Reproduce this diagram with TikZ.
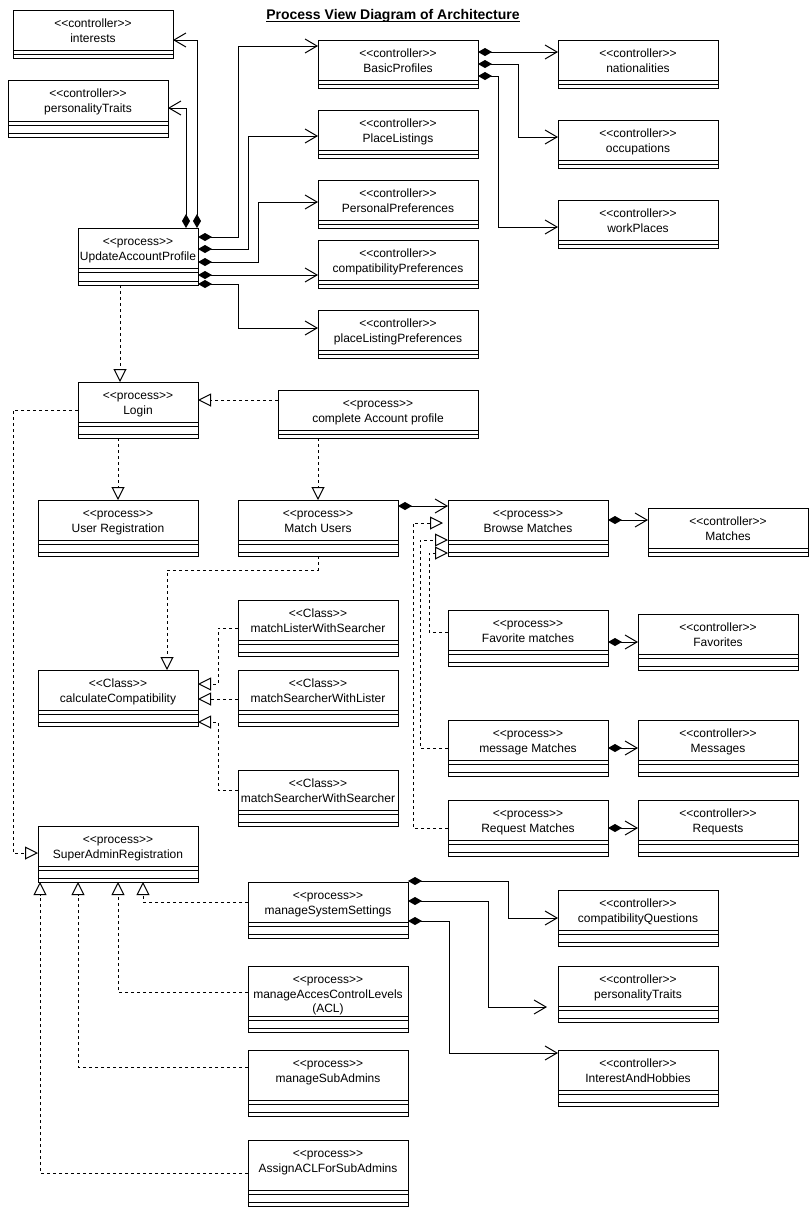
\documentclass[tikz,border=0pt]{standalone}
\usepackage{fontspec}
\setmainfont{Liberation Sans}[Ligatures=TeXOff]
\usetikzlibrary{arrows.meta}
\tikzset{
  ubox/.style={draw, line width=1pt, inner sep=0pt, outer sep=0pt, anchor=north west},
  utext/.style={anchor=north, align=center, inner sep=0pt, font=\fontsize{12}{14.5}\selectfont},
  comp/.style={draw, line width=1pt, {Diamond[length=14pt,width=8pt]}-{Straight Barb[length=12pt,width=14pt]}},
  realz/.style={draw, line width=1pt, dash pattern=on 3pt off 3pt, -{Triangle[open,length=13pt,width=13pt,fill=white]}},
}
\newcommand\umlbox[7]{%
  \pgfmathsetmacro\ubW{#4-#2}\pgfmathsetmacro\ubH{#5-#3}%
  \node[ubox, minimum width=\ubW pt, minimum height=\ubH pt] (#1) at (#2,#3) {};
  \foreach \yy in {#6}{\draw[line width=1pt] (#2,\yy) -- (#4,\yy);}
  \node[utext] (#1-t) at ({(#2+#4)/2},{#3+8}) {\rule{0pt}{9.5pt}#7};
}
\begin{document}
\begin{tikzpicture}[x=1pt,y=-1pt]
\useasboundingbox (0,0) rectangle (809,1208);
\fill[white] (0,0) rectangle (809,1208);

% title
\node[anchor=base, inner sep=0pt, font=\bfseries\fontsize{14}{16}\selectfont] (title) at (393,19.5) {Process View Diagram of Architecture};
\draw[line width=0.9pt] ([yshift=-1.8pt]title.base west) -- ([yshift=-1.8pt]title.base east);

% boxes
\umlbox{interests}{13}{10}{173}{58}{50,54}{<<controller>>\\interests}
\umlbox{ptA}{8}{80}{168}{137}{121,125,133}{<<controller>>\\personalityTraits}
\umlbox{uap}{78}{228}{198}{285}{268,272,281}{<<process>>\\UpdateAccountProfile}
\umlbox{bp}{318}{40}{478}{88}{80,84}{<<controller>>\\BasicProfiles}
\umlbox{pl}{318}{110}{478}{158}{150,154}{<<controller>>\\PlaceListings}
\umlbox{pp}{318}{180}{478}{228}{220,224}{<<controller>>\\PersonalPreferences}
\umlbox{cp}{318}{240}{478}{288}{280,284}{<<controller>>\\compatibilityPreferences}
\umlbox{plp}{318}{310}{478}{358}{350,354}{<<controller>>\\placeListingPreferences}
\umlbox{nat}{558}{40}{718}{88}{80,84}{<<controller>>\\nationalities}
\umlbox{occ}{558}{120}{718}{168}{160,164}{<<controller>>\\occupations}
\umlbox{wp}{558}{200}{718}{248}{240,244}{<<controller>>\\workPlaces}
\umlbox{login}{78}{382}{198}{438}{422,426,434}{<<process>>\\Login}
\umlbox{cap}{278}{390}{478}{438}{430,434}{<<process>>\\complete Account profile}
\umlbox{ur}{38}{500}{198}{556}{540,544,552}{<<process>>\\User Registration}
\umlbox{mu}{238}{500}{398}{556}{540,544,552}{<<process>>\\Match Users}
\umlbox{bm}{448}{500}{608}{556}{540,544,552}{<<process>>\\Browse Matches}
\umlbox{mat}{648}{508}{808}{556}{548,552}{<<controller>>\\Matches}
\umlbox{fm}{448}{610}{608}{666}{650,654,662}{<<process>>\\Favorite matches}
\umlbox{fav}{638}{614}{798}{670}{654,658,666}{<<controller>>\\Favorites}
\umlbox{mm}{448}{720}{608}{776}{760,764,772}{<<process>>\\message Matches}
\umlbox{mes}{638}{720}{798}{776}{760,764,772}{<<controller>>\\Messages}
\umlbox{rm}{448}{800}{608}{856}{840,844,852}{<<process>>\\Request Matches}
\umlbox{req}{638}{800}{798}{856}{840,844,852}{<<controller>>\\Requests}
\umlbox{mlws}{238}{600}{398}{656}{640,644,652}{<<Class>>\\matchListerWithSearcher}
\umlbox{calc}{38}{670}{198}{726}{710,714,722}{<<Class>>\\calculateCompatibility}
\umlbox{mswl}{238}{670}{398}{726}{710,714,722}{<<Class>>\\matchSearcherWithLister}
\umlbox{msws}{238}{770}{398}{826}{810,814,822}{<<Class>>\\matchSearcherWithSearcher}
\umlbox{sar}{38}{826}{198}{882}{866,870,878}{<<process>>\\SuperAdminRegistration}
\umlbox{mss}{248}{882}{408}{938}{922,926,934}{<<process>>\\manageSystemSettings}
\umlbox{macl}{248}{966}{408}{1032}{1016,1020,1028}{<<process>>\\manageAccesControlLevels\\(ACL)}
\umlbox{msa}{248}{1050}{408}{1116}{1100,1104,1112}{<<process>>\\manageSubAdmins}
\umlbox{aacl}{248}{1140}{408}{1206}{1190,1194,1202}{<<process>>\\AssignACLForSubAdmins}
\umlbox{cq}{558}{890}{718}{946}{930,934,942}{<<controller>>\\compatibilityQuestions}
\umlbox{ptB}{558}{966}{718}{1022}{1006,1010,1018}{<<controller>>\\personalityTraits}
\umlbox{ih}{558}{1050}{718}{1106}{1090,1094,1102}{<<controller>>\\InterestAndHobbies}

% compositions from UpdateAccountProfile
\draw[comp] (197,0 |- uap.north) |- (interests.east |- 0,40);
\draw[comp] (186,0 |- uap.north) |- (ptA.east |- 0,108);
\draw[comp] (uap.east |- 0,237) -- (238,237) |- (bp.west |- 0,46);
\draw[comp] (uap.east |- 0,249) -- (248,249) |- (pl.west |- 0,136);
\draw[comp] (uap.east |- 0,262) -- (258,262) |- (pp.west |- 0,202);
\draw[comp] (uap.east |- 0,275) -- (cp.west |- 0,275);
\draw[comp] (uap.east |- 0,284) -- (238,284) |- (plp.west |- 0,328);

% compositions from BasicProfiles
\draw[comp] (bp.east |- 0,52) -- (nat.west |- 0,52);
\draw[comp] (bp.east |- 0,64) -- (518,64) |- (occ.west |- 0,137);
\draw[comp] (bp.east |- 0,76) -- (498,76) |- (wp.west |- 0,227);

% realizations
\draw[realz] (120,0 |- uap.south) -- (120,0 |- login.north);
\draw[realz] (cap.west |- 0,400) -- (login.east |- 0,400);
\draw[realz] (118,0 |- login.south) -- (118,0 |- ur.north);
\draw[realz] (318,0 |- cap.south) -- (318,0 |- mu.north);
\draw[realz] (login.west |- 0,410) -- (13,410) |- (sar.west |- 0,853);
\draw[realz] (318,0 |- mu.south) -- (318,570) -| (167,0 |- calc.north);

% match compositions
\draw[comp] (mu.east |- 0,506) -- (bm.west |- 0,506);
\draw[comp] (bm.east |- 0,520) -- (mat.west |- 0,520);
\draw[comp] (fm.east |- 0,642) -- (fav.west |- 0,642);
\draw[comp] (mm.east |- 0,748) -- (mes.west |- 0,748);
\draw[comp] (rm.east |- 0,828) -- (req.west |- 0,828);

% realizations into Browse Matches
\draw[realz, shorten >=5pt] (rm.west |- 0,828) -- (413,828) |- (bm.west |- 0,523);
\draw[realz] (mm.west |- 0,748) -- (420,748) |- (bm.west |- 0,540);
\draw[realz] (fm.west |- 0,632) -- (429,632) |- (bm.west |- 0,553);

% realizations into calculateCompatibility
\draw[realz] (mlws.west |- 0,628) -- (218,628) |- (calc.east |- 0,684);
\draw[realz] (mswl.west |- 0,699) -- (calc.east |- 0,699);
\draw[realz] (msws.west |- 0,790) -- (218,790) |- (calc.east |- 0,722);

% realizations into SuperAdminRegistration
\draw[realz] (mss.west |- 0,902) -| (143,0 |- sar.south);
\draw[realz] (macl.west |- 0,992) -| (118,0 |- sar.south);
\draw[realz] (msa.west |- 0,1067) -| (78,0 |- sar.south);
\draw[realz] (aacl.west |- 0,1173) -| (40,0 |- sar.south);

% compositions from manageSystemSettings
\draw[comp] (mss.east |- 0,881) -- (508,881) |- (cq.west |- 0,918);
\draw[comp, shorten >=11pt] (mss.east |- 0,901) -- (488,901) |- (ptB.west |- 0,1007);
\draw[comp] (mss.east |- 0,921) -- (449,921) |- (ih.west |- 0,1053);
\end{tikzpicture}
\end{document}
